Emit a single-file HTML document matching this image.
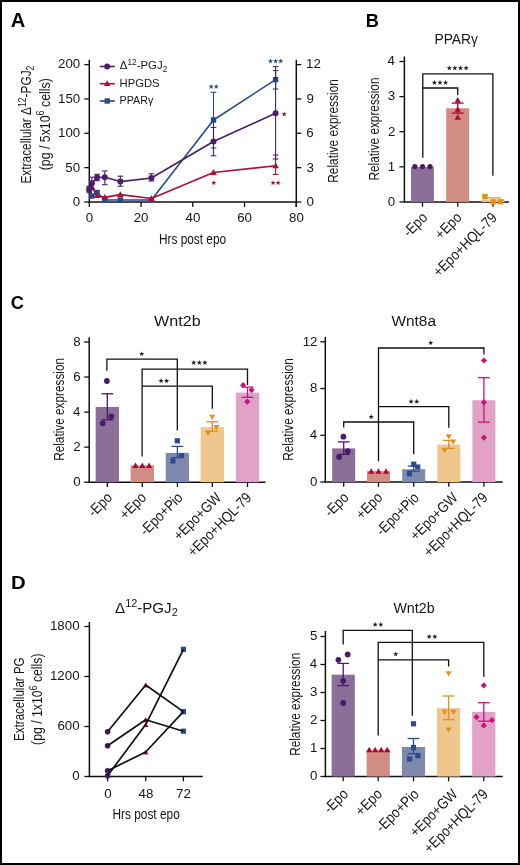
<!DOCTYPE html>
<html><head><meta charset="utf-8"><style>
html,body{margin:0;padding:0;background:#fff;width:520px;height:865px;overflow:hidden}
svg{display:block;will-change:transform}
text{font-family:"Liberation Sans", sans-serif}
</style></head><body>
<svg width="520" height="865" viewBox="0 0 520 865" font-family='"Liberation Sans", sans-serif'>
<rect x="0.00" y="0.00" width="520.00" height="865.00" fill="#ffffff"/>
<rect x="1" y="1" width="518" height="863" fill="none" stroke="#000" stroke-width="2"/>
<text transform="translate(10.75,26.50) scale(1.0440,1)" x="0" y="0" fill="#000" font-weight="bold"><tspan font-size="19.30" dy="-0.00">A</tspan></text>
<line x1="89.30" y1="59.80" x2="89.30" y2="202.65" stroke="#111" stroke-width="1.5"/>
<line x1="296.30" y1="59.80" x2="296.30" y2="207.00" stroke="#111" stroke-width="1.5"/>
<line x1="88.55" y1="202.00" x2="297.05" y2="202.00" stroke="#111" stroke-width="1.5"/>
<line x1="84.30" y1="202.00" x2="89.30" y2="202.00" stroke="#111" stroke-width="1.3"/>
<text transform="translate(72.75,205.85) scale(1.0000,1)" x="0" y="0" fill="#161616"><tspan font-size="13.30" dy="-0.00">0</tspan></text>
<line x1="84.30" y1="167.65" x2="89.30" y2="167.65" stroke="#111" stroke-width="1.3"/>
<text transform="translate(65.37,171.50) scale(1.0000,1)" x="0" y="0" fill="#161616"><tspan font-size="13.30" dy="-0.00">50</tspan></text>
<line x1="84.30" y1="133.30" x2="89.30" y2="133.30" stroke="#111" stroke-width="1.3"/>
<text transform="translate(57.99,137.16) scale(1.0000,1)" x="0" y="0" fill="#161616"><tspan font-size="13.30" dy="-0.00">100</tspan></text>
<line x1="84.30" y1="98.95" x2="89.30" y2="98.95" stroke="#111" stroke-width="1.3"/>
<text transform="translate(57.99,102.80) scale(1.0000,1)" x="0" y="0" fill="#161616"><tspan font-size="13.30" dy="-0.00">150</tspan></text>
<line x1="84.30" y1="64.60" x2="89.30" y2="64.60" stroke="#111" stroke-width="1.3"/>
<text transform="translate(57.99,68.45) scale(1.0000,1)" x="0" y="0" fill="#161616"><tspan font-size="13.30" dy="-0.00">200</tspan></text>
<line x1="296.30" y1="202.00" x2="301.30" y2="202.00" stroke="#111" stroke-width="1.3"/>
<text transform="translate(306.47,205.85) scale(1.0000,1)" x="0" y="0" fill="#161616"><tspan font-size="13.30" dy="-0.00">0</tspan></text>
<line x1="296.30" y1="167.65" x2="301.30" y2="167.65" stroke="#111" stroke-width="1.3"/>
<text transform="translate(306.47,171.50) scale(1.0000,1)" x="0" y="0" fill="#161616"><tspan font-size="13.30" dy="-0.00">3</tspan></text>
<line x1="296.30" y1="133.30" x2="301.30" y2="133.30" stroke="#111" stroke-width="1.3"/>
<text transform="translate(306.33,137.16) scale(1.0000,1)" x="0" y="0" fill="#161616"><tspan font-size="13.30" dy="-0.00">6</tspan></text>
<line x1="296.30" y1="98.95" x2="301.30" y2="98.95" stroke="#111" stroke-width="1.3"/>
<text transform="translate(306.40,102.80) scale(1.0000,1)" x="0" y="0" fill="#161616"><tspan font-size="13.30" dy="-0.00">9</tspan></text>
<line x1="296.30" y1="64.60" x2="301.30" y2="64.60" stroke="#111" stroke-width="1.3"/>
<text transform="translate(306.00,68.45) scale(1.0000,1)" x="0" y="0" fill="#161616"><tspan font-size="13.30" dy="-0.00">12</tspan></text>
<line x1="89.30" y1="202.00" x2="89.30" y2="207.00" stroke="#111" stroke-width="1.3"/>
<text transform="translate(85.71,222.40) scale(1.0000,1)" x="0" y="0" fill="#161616"><tspan font-size="13.30" dy="-0.00">0</tspan></text>
<line x1="141.05" y1="202.00" x2="141.05" y2="207.00" stroke="#111" stroke-width="1.3"/>
<text transform="translate(133.70,222.40) scale(1.0000,1)" x="0" y="0" fill="#161616"><tspan font-size="13.30" dy="-0.00">20</tspan></text>
<line x1="192.80" y1="202.00" x2="192.80" y2="207.00" stroke="#111" stroke-width="1.3"/>
<text transform="translate(185.62,222.40) scale(1.0000,1)" x="0" y="0" fill="#161616"><tspan font-size="13.30" dy="-0.00">40</tspan></text>
<line x1="244.55" y1="202.00" x2="244.55" y2="207.00" stroke="#111" stroke-width="1.3"/>
<text transform="translate(237.20,222.40) scale(1.0000,1)" x="0" y="0" fill="#161616"><tspan font-size="13.30" dy="-0.00">60</tspan></text>
<line x1="296.30" y1="202.00" x2="296.30" y2="207.00" stroke="#111" stroke-width="1.3"/>
<text transform="translate(288.99,222.40) scale(1.0000,1)" x="0" y="0" fill="#161616"><tspan font-size="13.30" dy="-0.00">80</tspan></text>
<text transform="translate(158.95,243.60) scale(0.7649,1)" x="0" y="0" fill="#161616"><tspan font-size="15.50" dy="-0.00">Hrs post epo</tspan></text>
<text transform="translate(338.00,182.75) rotate(-90) scale(0.8029,1)" x="0" y="0" fill="#161616"><tspan font-size="14.80" dy="-0.00">Relative expression</tspan></text>
<text transform="translate(31.20,183.55) rotate(-90) scale(0.8031,1)" x="0" y="0" fill="#161616"><tspan font-size="14.80" dy="-0.00">Extracellular Δ</tspan><tspan font-size="10.66" dy="-5.33">12</tspan><tspan font-size="14.80" dy="5.33">-PGJ</tspan><tspan font-size="10.66" dy="2.96">2</tspan></text>
<text transform="translate(49.60,170.34) rotate(-90) scale(0.8355,1)" x="0" y="0" fill="#161616"><tspan font-size="14.80" dy="-0.00">(pg / 5x10</tspan><tspan font-size="10.66" dy="-5.33">6</tspan><tspan font-size="14.80" dy="5.33"> cells)</tspan></text>
<polyline points="89.30,188.50 91.89,196.00 97.06,192.50 104.83,200.00 120.35,200.00 151.40,200.00 213.50,120.00 275.60,79.60" fill="none" stroke="#244a88" stroke-width="1.6" stroke-linejoin="round"/>
<polyline points="89.30,189.00 91.89,187.00 97.06,195.70 104.83,197.40 120.35,194.60 151.40,198.50 213.50,172.50 275.60,165.80" fill="none" stroke="#b00d38" stroke-width="1.6" stroke-linejoin="round"/>
<polyline points="89.30,189.50 91.89,183.30 97.06,177.50 104.83,177.20 120.35,181.60 151.40,178.00 213.50,141.50 275.60,113.30" fill="none" stroke="#4b1e68" stroke-width="1.6" stroke-linejoin="round"/>
<rect x="86.60" y="185.80" width="5.40" height="5.40" fill="#244a88"/>
<rect x="89.19" y="193.30" width="5.40" height="5.40" fill="#244a88"/>
<rect x="94.36" y="189.80" width="5.40" height="5.40" fill="#244a88"/>
<rect x="102.12" y="197.30" width="5.40" height="5.40" fill="#244a88"/>
<rect x="117.65" y="197.30" width="5.40" height="5.40" fill="#244a88"/>
<rect x="148.70" y="197.30" width="5.40" height="5.40" fill="#244a88"/>
<line x1="213.50" y1="92.30" x2="213.50" y2="148.00" stroke="#244a88" stroke-width="1.1"/>
<line x1="210.70" y1="92.30" x2="216.30" y2="92.30" stroke="#244a88" stroke-width="1.1"/>
<line x1="210.70" y1="148.00" x2="216.30" y2="148.00" stroke="#244a88" stroke-width="1.1"/>
<rect x="210.80" y="117.30" width="5.40" height="5.40" fill="#244a88"/>
<line x1="275.60" y1="70.50" x2="275.60" y2="89.00" stroke="#244a88" stroke-width="1.1"/>
<line x1="272.80" y1="70.50" x2="278.40" y2="70.50" stroke="#244a88" stroke-width="1.1"/>
<line x1="272.80" y1="89.00" x2="278.40" y2="89.00" stroke="#244a88" stroke-width="1.1"/>
<rect x="272.90" y="76.90" width="5.40" height="5.40" fill="#244a88"/>
<polygon points="86.00,191.40 92.60,191.40 89.30,185.60" fill="#b00d38"/>
<polygon points="88.59,189.40 95.19,189.40 91.89,183.60" fill="#b00d38"/>
<polygon points="93.76,198.10 100.36,198.10 97.06,192.30" fill="#b00d38"/>
<polygon points="101.53,199.80 108.12,199.80 104.83,194.00" fill="#b00d38"/>
<polygon points="117.05,197.00 123.65,197.00 120.35,191.20" fill="#b00d38"/>
<polygon points="148.10,200.90 154.70,200.90 151.40,195.10" fill="#b00d38"/>
<polygon points="210.20,174.90 216.80,174.90 213.50,169.10" fill="#b00d38"/>
<line x1="275.60" y1="155.00" x2="275.60" y2="174.40" stroke="#b00d38" stroke-width="1.1"/>
<line x1="272.80" y1="155.00" x2="278.40" y2="155.00" stroke="#b00d38" stroke-width="1.1"/>
<line x1="272.80" y1="174.40" x2="278.40" y2="174.40" stroke="#b00d38" stroke-width="1.1"/>
<polygon points="272.30,168.20 278.90,168.20 275.60,162.40" fill="#b00d38"/>
<line x1="89.30" y1="186.50" x2="89.30" y2="192.80" stroke="#4b1e68" stroke-width="1.1"/>
<line x1="86.50" y1="186.50" x2="92.10" y2="186.50" stroke="#4b1e68" stroke-width="1.1"/>
<line x1="86.50" y1="192.80" x2="92.10" y2="192.80" stroke="#4b1e68" stroke-width="1.1"/>
<circle cx="89.30" cy="189.50" r="3.0" fill="#4b1e68"/>
<line x1="91.89" y1="177.20" x2="91.89" y2="189.00" stroke="#4b1e68" stroke-width="1.1"/>
<line x1="89.09" y1="177.20" x2="94.69" y2="177.20" stroke="#4b1e68" stroke-width="1.1"/>
<line x1="89.09" y1="189.00" x2="94.69" y2="189.00" stroke="#4b1e68" stroke-width="1.1"/>
<circle cx="91.89" cy="183.30" r="3.0" fill="#4b1e68"/>
<line x1="97.06" y1="174.30" x2="97.06" y2="180.70" stroke="#4b1e68" stroke-width="1.1"/>
<line x1="94.26" y1="174.30" x2="99.86" y2="174.30" stroke="#4b1e68" stroke-width="1.1"/>
<line x1="94.26" y1="180.70" x2="99.86" y2="180.70" stroke="#4b1e68" stroke-width="1.1"/>
<circle cx="97.06" cy="177.50" r="3.0" fill="#4b1e68"/>
<line x1="104.83" y1="170.90" x2="104.83" y2="184.70" stroke="#4b1e68" stroke-width="1.1"/>
<line x1="102.03" y1="170.90" x2="107.62" y2="170.90" stroke="#4b1e68" stroke-width="1.1"/>
<line x1="102.03" y1="184.70" x2="107.62" y2="184.70" stroke="#4b1e68" stroke-width="1.1"/>
<circle cx="104.83" cy="177.20" r="3.0" fill="#4b1e68"/>
<line x1="120.35" y1="176.20" x2="120.35" y2="186.20" stroke="#4b1e68" stroke-width="1.1"/>
<line x1="117.55" y1="176.20" x2="123.15" y2="176.20" stroke="#4b1e68" stroke-width="1.1"/>
<line x1="117.55" y1="186.20" x2="123.15" y2="186.20" stroke="#4b1e68" stroke-width="1.1"/>
<circle cx="120.35" cy="181.60" r="3.0" fill="#4b1e68"/>
<line x1="151.40" y1="173.80" x2="151.40" y2="181.00" stroke="#4b1e68" stroke-width="1.1"/>
<line x1="148.60" y1="173.80" x2="154.20" y2="173.80" stroke="#4b1e68" stroke-width="1.1"/>
<line x1="148.60" y1="181.00" x2="154.20" y2="181.00" stroke="#4b1e68" stroke-width="1.1"/>
<circle cx="151.40" cy="178.00" r="3.0" fill="#4b1e68"/>
<line x1="213.50" y1="127.50" x2="213.50" y2="155.80" stroke="#4b1e68" stroke-width="1.1"/>
<line x1="210.70" y1="127.50" x2="216.30" y2="127.50" stroke="#4b1e68" stroke-width="1.1"/>
<line x1="210.70" y1="155.80" x2="216.30" y2="155.80" stroke="#4b1e68" stroke-width="1.1"/>
<circle cx="213.50" cy="141.50" r="3.0" fill="#4b1e68"/>
<line x1="275.60" y1="66.60" x2="275.60" y2="159.00" stroke="#4b1e68" stroke-width="1.1"/>
<line x1="272.80" y1="66.60" x2="278.40" y2="66.60" stroke="#4b1e68" stroke-width="1.1"/>
<line x1="272.80" y1="159.00" x2="278.40" y2="159.00" stroke="#4b1e68" stroke-width="1.1"/>
<circle cx="275.60" cy="113.30" r="3.0" fill="#4b1e68"/>
<polygon points="211.15,84.00 211.78,85.83 213.72,85.87 212.18,87.03 212.74,88.88 211.15,87.78 209.56,88.88 210.12,87.03 208.58,85.87 210.52,85.83" fill="#244a88"/>
<polygon points="216.25,84.00 216.88,85.83 218.82,85.87 217.28,87.03 217.84,88.88 216.25,87.78 214.66,88.88 215.22,87.03 213.68,85.87 215.62,85.83" fill="#244a88"/>
<polygon points="270.50,58.50 271.13,60.33 273.07,60.37 271.53,61.53 272.09,63.38 270.50,62.28 268.91,63.38 269.47,61.53 267.93,60.37 269.87,60.33" fill="#244a88"/>
<polygon points="275.60,58.50 276.23,60.33 278.17,60.37 276.63,61.53 277.19,63.38 275.60,62.28 274.01,63.38 274.57,61.53 273.03,60.37 274.97,60.33" fill="#244a88"/>
<polygon points="280.70,58.50 281.33,60.33 283.27,60.37 281.73,61.53 282.29,63.38 280.70,62.28 279.11,63.38 279.67,61.53 278.13,60.37 280.07,60.33" fill="#244a88"/>
<polygon points="284.20,111.50 284.83,113.33 286.77,113.37 285.23,114.53 285.79,116.38 284.20,115.28 282.61,116.38 283.17,114.53 281.63,113.37 283.57,113.33" fill="#4b1e68"/>
<polygon points="213.70,180.20 214.33,182.03 216.27,182.07 214.73,183.23 215.29,185.08 213.70,183.98 212.11,185.08 212.67,183.23 211.13,182.07 213.07,182.03" fill="#b00d38"/>
<polygon points="273.05,180.20 273.68,182.03 275.62,182.07 274.08,183.23 274.64,185.08 273.05,183.98 271.46,185.08 272.02,183.23 270.48,182.07 272.42,182.03" fill="#b00d38"/>
<polygon points="278.15,180.20 278.78,182.03 280.72,182.07 279.18,183.23 279.74,185.08 278.15,183.98 276.56,185.08 277.12,183.23 275.58,182.07 277.52,182.03" fill="#b00d38"/>
<line x1="99.80" y1="66.50" x2="114.80" y2="66.50" stroke="#4b1e68" stroke-width="1.6"/>
<circle cx="107.20" cy="66.50" r="3.0" fill="#4b1e68"/>
<line x1="99.80" y1="83.70" x2="114.80" y2="83.70" stroke="#b00d38" stroke-width="1.6"/>
<polygon points="103.90,86.10 110.50,86.10 107.20,80.30" fill="#b00d38"/>
<line x1="99.80" y1="101.00" x2="114.80" y2="101.00" stroke="#244a88" stroke-width="1.6"/>
<rect x="104.50" y="98.30" width="5.40" height="5.40" fill="#244a88"/>
<text transform="translate(119.86,69.20) scale(0.9700,1)" x="0" y="0" fill="#161616"><tspan font-size="11.80" dy="-0.00">Δ</tspan><tspan font-size="8.50" dy="-4.25">12</tspan><tspan font-size="11.80" dy="4.25">-PGJ</tspan><tspan font-size="8.50" dy="2.36">2</tspan></text>
<text transform="translate(119.50,86.90) scale(0.9727,1)" x="0" y="0" fill="#161616"><tspan font-size="11.60" dy="-0.00">HPGDS</tspan></text>
<text transform="translate(119.54,104.20) scale(0.9282,1)" x="0" y="0" fill="#161616"><tspan font-size="11.60" dy="-0.00">PPARγ</tspan></text>
<text transform="translate(365.72,26.90) scale(0.9783,1)" x="0" y="0" fill="#000" font-weight="bold"><tspan font-size="18.60" dy="-0.00">B</tspan></text>
<text transform="translate(434.39,44.20) scale(0.9563,1)" x="0" y="0" fill="#161616"><tspan font-size="14.50" dy="-0.00">PPARγ</tspan></text>
<line x1="404.40" y1="56.50" x2="404.40" y2="202.55" stroke="#111" stroke-width="1.5"/>
<line x1="403.65" y1="201.90" x2="509.00" y2="201.90" stroke="#111" stroke-width="1.5"/>
<line x1="399.40" y1="201.90" x2="404.40" y2="201.90" stroke="#111" stroke-width="1.3"/>
<text transform="translate(387.75,205.75) scale(1.0000,1)" x="0" y="0" fill="#161616"><tspan font-size="13.30" dy="-0.00">0</tspan></text>
<line x1="399.40" y1="166.80" x2="404.40" y2="166.80" stroke="#111" stroke-width="1.3"/>
<text transform="translate(387.82,170.66) scale(1.0000,1)" x="0" y="0" fill="#161616"><tspan font-size="13.30" dy="-0.00">1</tspan></text>
<line x1="399.40" y1="131.70" x2="404.40" y2="131.70" stroke="#111" stroke-width="1.3"/>
<text transform="translate(387.88,135.55) scale(1.0000,1)" x="0" y="0" fill="#161616"><tspan font-size="13.30" dy="-0.00">2</tspan></text>
<line x1="399.40" y1="96.60" x2="404.40" y2="96.60" stroke="#111" stroke-width="1.3"/>
<text transform="translate(387.82,100.45) scale(1.0000,1)" x="0" y="0" fill="#161616"><tspan font-size="13.30" dy="-0.00">3</tspan></text>
<line x1="399.40" y1="61.50" x2="404.40" y2="61.50" stroke="#111" stroke-width="1.3"/>
<text transform="translate(387.62,65.36) scale(1.0000,1)" x="0" y="0" fill="#161616"><tspan font-size="13.30" dy="-0.00">4</tspan></text>
<text transform="translate(379.00,180.55) rotate(-90) scale(0.7993,1)" x="0" y="0" fill="#161616"><tspan font-size="14.80" dy="-0.00">Relative expression</tspan></text>
<line x1="422.50" y1="201.90" x2="422.50" y2="206.70" stroke="#111" stroke-width="1.3"/>
<line x1="457.70" y1="201.90" x2="457.70" y2="206.70" stroke="#111" stroke-width="1.3"/>
<line x1="493.00" y1="201.90" x2="493.00" y2="206.70" stroke="#111" stroke-width="1.3"/>
<rect x="411.00" y="167.00" width="22.90" height="34.90" fill="#8a6f98"/>
<rect x="446.20" y="108.20" width="23.00" height="93.70" fill="#d18d84"/>
<rect x="481.50" y="199.30" width="23.00" height="2.60" fill="#eec68e"/>
<line x1="457.70" y1="103.10" x2="457.70" y2="113.10" stroke="#ad0631" stroke-width="1.3"/>
<line x1="451.80" y1="103.10" x2="463.60" y2="103.10" stroke="#ad0631" stroke-width="1.3"/>
<line x1="451.80" y1="113.10" x2="463.60" y2="113.10" stroke="#ad0631" stroke-width="1.3"/>
<circle cx="414.90" cy="166.60" r="2.6" fill="#4b1966"/>
<circle cx="422.50" cy="166.60" r="2.6" fill="#4b1966"/>
<circle cx="430.00" cy="166.60" r="2.6" fill="#4b1966"/>
<polygon points="454.50,102.72 460.90,102.72 457.70,97.08" fill="#ad0631"/>
<polygon points="454.50,111.82 460.90,111.82 457.70,106.18" fill="#ad0631"/>
<polygon points="454.50,119.82 460.90,119.82 457.70,114.18" fill="#ad0631"/>
<line x1="482.50" y1="197.90" x2="500.50" y2="197.90" stroke="#e0901c" stroke-width="1.2"/>
<rect x="482.35" y="193.75" width="5.30" height="5.30" fill="#e0901c"/>
<rect x="490.45" y="199.15" width="5.30" height="5.30" fill="#e0901c"/>
<rect x="497.75" y="199.15" width="5.30" height="5.30" fill="#e0901c"/>
<polyline points="422.80,157.70 422.80,73.80 492.90,73.80 492.90,175.80" fill="none" stroke="#111" stroke-width="1.3"/>
<polygon points="449.30,65.35 449.95,67.21 451.92,67.25 450.35,68.44 450.92,70.32 449.30,69.20 447.68,70.32 448.25,68.44 446.68,67.25 448.65,67.21" fill="#1c1c1c"/>
<polygon points="454.90,65.35 455.55,67.21 457.52,67.25 455.95,68.44 456.52,70.32 454.90,69.20 453.28,70.32 453.85,68.44 452.28,67.25 454.25,67.21" fill="#1c1c1c"/>
<polygon points="460.50,65.35 461.15,67.21 463.12,67.25 461.55,68.44 462.12,70.32 460.50,69.20 458.88,70.32 459.45,68.44 457.88,67.25 459.85,67.21" fill="#1c1c1c"/>
<polygon points="466.10,65.35 466.75,67.21 468.72,67.25 467.15,68.44 467.72,70.32 466.10,69.20 464.48,70.32 465.05,68.44 463.48,67.25 465.45,67.21" fill="#1c1c1c"/>
<polyline points="422.80,88.00 422.80,88.00 457.70,88.00 457.70,95.10" fill="none" stroke="#111" stroke-width="1.3"/>
<polygon points="434.40,79.95 435.05,81.81 437.02,81.85 435.45,83.04 436.02,84.92 434.40,83.80 432.78,84.92 433.35,83.04 431.78,81.85 433.75,81.81" fill="#1c1c1c"/>
<polygon points="440.00,79.95 440.65,81.81 442.62,81.85 441.05,83.04 441.62,84.92 440.00,83.80 438.38,84.92 438.95,83.04 437.38,81.85 439.35,81.81" fill="#1c1c1c"/>
<polygon points="445.60,79.95 446.25,81.81 448.22,81.85 446.65,83.04 447.22,84.92 445.60,83.80 443.98,84.92 444.55,83.04 442.98,81.85 444.95,81.81" fill="#1c1c1c"/>
<text transform="translate(428.30,218.50) rotate(-45) translate(-27.38,0) scale(0.8700,1)" x="0" y="0" fill="#161616"><tspan font-size="14.90" dy="-0.00">-Epo</tspan></text>
<text transform="translate(462.50,218.50) rotate(-45) translate(-30.64,0) scale(0.8700,1)" x="0" y="0" fill="#161616"><tspan font-size="14.90" dy="-0.00">+Epo</tspan></text>
<text transform="translate(498.00,218.50) rotate(-45) translate(-83.60,0) scale(0.8700,1)" x="0" y="0" fill="#161616"><tspan font-size="14.90" dy="-0.00">+Epo+HQL-79</tspan></text>
<text transform="translate(10.77,309.20) scale(0.9745,1)" x="0" y="0" fill="#000" font-weight="bold"><tspan font-size="18.80" dy="-0.00">C</tspan></text>
<text transform="translate(154.12,326.00) scale(1.0591,1)" x="0" y="0" fill="#161616"><tspan font-size="15.20" dy="-0.00">Wnt2b</tspan></text>
<text transform="translate(391.42,326.00) scale(1.0148,1)" x="0" y="0" fill="#161616"><tspan font-size="15.20" dy="-0.00">Wnt8a</tspan></text>
<line x1="89.20" y1="337.30" x2="89.20" y2="482.85" stroke="#111" stroke-width="1.5"/>
<line x1="88.45" y1="482.20" x2="265.50" y2="482.20" stroke="#111" stroke-width="1.5"/>
<line x1="84.20" y1="482.20" x2="89.20" y2="482.20" stroke="#111" stroke-width="1.3"/>
<text transform="translate(73.15,486.05) scale(1.0000,1)" x="0" y="0" fill="#161616"><tspan font-size="13.30" dy="-0.00">0</tspan></text>
<line x1="84.20" y1="447.15" x2="89.20" y2="447.15" stroke="#111" stroke-width="1.3"/>
<text transform="translate(73.28,451.00) scale(1.0000,1)" x="0" y="0" fill="#161616"><tspan font-size="13.30" dy="-0.00">2</tspan></text>
<line x1="84.20" y1="412.10" x2="89.20" y2="412.10" stroke="#111" stroke-width="1.3"/>
<text transform="translate(73.02,415.95) scale(1.0000,1)" x="0" y="0" fill="#161616"><tspan font-size="13.30" dy="-0.00">4</tspan></text>
<line x1="84.20" y1="377.05" x2="89.20" y2="377.05" stroke="#111" stroke-width="1.3"/>
<text transform="translate(73.22,380.90) scale(1.0000,1)" x="0" y="0" fill="#161616"><tspan font-size="13.30" dy="-0.00">6</tspan></text>
<line x1="84.20" y1="342.00" x2="89.20" y2="342.00" stroke="#111" stroke-width="1.3"/>
<text transform="translate(73.15,345.85) scale(1.0000,1)" x="0" y="0" fill="#161616"><tspan font-size="13.30" dy="-0.00">8</tspan></text>
<line x1="107.30" y1="482.20" x2="107.30" y2="487.00" stroke="#111" stroke-width="1.3"/>
<rect x="95.65" y="407.00" width="23.30" height="75.20" fill="#8a6f98"/>
<line x1="142.30" y1="482.20" x2="142.30" y2="487.00" stroke="#111" stroke-width="1.3"/>
<rect x="130.65" y="465.30" width="23.30" height="16.90" fill="#d18d84"/>
<line x1="177.40" y1="482.20" x2="177.40" y2="487.00" stroke="#111" stroke-width="1.3"/>
<rect x="165.75" y="452.90" width="23.30" height="29.30" fill="#7f89ae"/>
<line x1="212.30" y1="482.20" x2="212.30" y2="487.00" stroke="#111" stroke-width="1.3"/>
<rect x="200.65" y="427.20" width="23.30" height="55.00" fill="#eec68e"/>
<line x1="247.50" y1="482.20" x2="247.50" y2="487.00" stroke="#111" stroke-width="1.3"/>
<rect x="235.85" y="392.60" width="23.30" height="89.60" fill="#e0a2c6"/>
<line x1="107.30" y1="393.80" x2="107.30" y2="419.80" stroke="#4b1966" stroke-width="1.3"/>
<line x1="101.40" y1="393.80" x2="113.20" y2="393.80" stroke="#4b1966" stroke-width="1.3"/>
<line x1="101.40" y1="419.80" x2="113.20" y2="419.80" stroke="#4b1966" stroke-width="1.3"/>
<circle cx="106.90" cy="381.00" r="2.9" fill="#4b1966"/>
<circle cx="111.30" cy="416.50" r="2.9" fill="#4b1966"/>
<circle cx="102.70" cy="423.30" r="2.9" fill="#4b1966"/>
<polygon points="132.40,468.03 138.60,468.03 135.50,462.57" fill="#ad0631"/>
<polygon points="139.20,468.03 145.40,468.03 142.30,462.57" fill="#ad0631"/>
<polygon points="146.00,468.03 152.20,468.03 149.10,462.57" fill="#ad0631"/>
<line x1="177.40" y1="446.40" x2="177.40" y2="457.60" stroke="#2a4d8a" stroke-width="1.3"/>
<line x1="171.50" y1="446.40" x2="183.30" y2="446.40" stroke="#2a4d8a" stroke-width="1.3"/>
<line x1="171.50" y1="457.60" x2="183.30" y2="457.60" stroke="#2a4d8a" stroke-width="1.3"/>
<rect x="174.70" y="438.20" width="5.20" height="5.20" fill="#2a4d8a"/>
<rect x="178.90" y="453.00" width="5.20" height="5.20" fill="#2a4d8a"/>
<rect x="170.30" y="458.40" width="5.20" height="5.20" fill="#2a4d8a"/>
<line x1="212.30" y1="421.80" x2="212.30" y2="431.20" stroke="#e0901c" stroke-width="1.3"/>
<line x1="206.40" y1="421.80" x2="218.20" y2="421.80" stroke="#e0901c" stroke-width="1.3"/>
<line x1="206.40" y1="431.20" x2="218.20" y2="431.20" stroke="#e0901c" stroke-width="1.3"/>
<polygon points="209.20,414.76 215.20,414.76 212.20,420.04" fill="#e0901c"/>
<polygon points="213.50,424.96 219.50,424.96 216.50,430.24" fill="#e0901c"/>
<polygon points="205.10,430.66 211.10,430.66 208.10,435.94" fill="#e0901c"/>
<line x1="247.50" y1="387.10" x2="247.50" y2="397.30" stroke="#c8147e" stroke-width="1.3"/>
<line x1="241.60" y1="387.10" x2="253.40" y2="387.10" stroke="#c8147e" stroke-width="1.3"/>
<line x1="241.60" y1="397.30" x2="253.40" y2="397.30" stroke="#c8147e" stroke-width="1.3"/>
<polygon points="243.10,382.10 246.20,385.20 243.10,388.30 240.00,385.20" fill="#c8147e"/>
<polygon points="251.60,387.00 254.70,390.10 251.60,393.20 248.50,390.10" fill="#c8147e"/>
<polygon points="247.30,398.60 250.40,401.70 247.30,404.80 244.20,401.70" fill="#c8147e"/>
<text transform="translate(63.75,460.84) rotate(-90) scale(0.7977,1)" x="0" y="0" fill="#161616"><tspan font-size="14.80" dy="-0.00">Relative expression</tspan></text>
<polyline points="106.90,370.80 106.90,359.20 177.30,359.20 177.30,430.40" fill="none" stroke="#111" stroke-width="1.3"/>
<polygon points="141.70,351.15 142.35,353.01 144.32,353.05 142.75,354.24 143.32,356.12 141.70,355.00 140.08,356.12 140.65,354.24 139.08,353.05 141.05,353.01" fill="#1c1c1c"/>
<polyline points="142.10,456.40 142.10,369.20 247.50,369.20 247.50,385.00" fill="none" stroke="#111" stroke-width="1.3"/>
<polygon points="193.70,359.95 194.35,361.81 196.32,361.85 194.75,363.04 195.32,364.92 193.70,363.80 192.08,364.92 192.65,363.04 191.08,361.85 193.05,361.81" fill="#1c1c1c"/>
<polygon points="199.30,359.95 199.95,361.81 201.92,361.85 200.35,363.04 200.92,364.92 199.30,363.80 197.68,364.92 198.25,363.04 196.68,361.85 198.65,361.81" fill="#1c1c1c"/>
<polygon points="204.90,359.95 205.55,361.81 207.52,361.85 205.95,363.04 206.52,364.92 204.90,363.80 203.28,364.92 203.85,363.04 202.28,361.85 204.25,361.81" fill="#1c1c1c"/>
<polyline points="142.10,386.20 142.10,386.20 212.30,386.20 212.30,408.80" fill="none" stroke="#111" stroke-width="1.3"/>
<polygon points="161.00,378.05 161.65,379.91 163.62,379.95 162.05,381.14 162.62,383.02 161.00,381.90 159.38,383.02 159.95,381.14 158.38,379.95 160.35,379.91" fill="#1c1c1c"/>
<polygon points="166.60,378.05 167.25,379.91 169.22,379.95 167.65,381.14 168.22,383.02 166.60,381.90 164.98,383.02 165.55,381.14 163.98,379.95 165.95,379.91" fill="#1c1c1c"/>
<text transform="translate(113.10,498.50) rotate(-45) translate(-27.38,0) scale(0.8700,1)" x="0" y="0" fill="#161616"><tspan font-size="14.90" dy="-0.00">-Epo</tspan></text>
<text transform="translate(147.10,498.50) rotate(-45) translate(-30.64,0) scale(0.8700,1)" x="0" y="0" fill="#161616"><tspan font-size="14.90" dy="-0.00">+Epo</tspan></text>
<text transform="translate(183.70,498.50) rotate(-45) translate(-53.69,0) scale(0.8700,1)" x="0" y="0" fill="#161616"><tspan font-size="14.90" dy="-0.00">-Epo+Pio</tspan></text>
<text transform="translate(222.20,498.50) rotate(-45) translate(-60.52,0) scale(0.8700,1)" x="0" y="0" fill="#161616"><tspan font-size="14.90" dy="-0.00">+Epo+GW</tspan></text>
<text transform="translate(252.50,498.50) rotate(-45) translate(-83.60,0) scale(0.8700,1)" x="0" y="0" fill="#161616"><tspan font-size="14.90" dy="-0.00">+Epo+HQL-79</tspan></text>
<line x1="325.30" y1="337.00" x2="325.30" y2="482.65" stroke="#111" stroke-width="1.5"/>
<line x1="324.55" y1="482.00" x2="502.70" y2="482.00" stroke="#111" stroke-width="1.5"/>
<line x1="320.30" y1="482.00" x2="325.30" y2="482.00" stroke="#111" stroke-width="1.3"/>
<text transform="translate(309.95,485.85) scale(1.0000,1)" x="0" y="0" fill="#161616"><tspan font-size="13.30" dy="-0.00">0</tspan></text>
<line x1="320.30" y1="435.27" x2="325.30" y2="435.27" stroke="#111" stroke-width="1.3"/>
<text transform="translate(309.82,439.12) scale(1.0000,1)" x="0" y="0" fill="#161616"><tspan font-size="13.30" dy="-0.00">4</tspan></text>
<line x1="320.30" y1="388.53" x2="325.30" y2="388.53" stroke="#111" stroke-width="1.3"/>
<text transform="translate(309.95,392.39) scale(1.0000,1)" x="0" y="0" fill="#161616"><tspan font-size="13.30" dy="-0.00">8</tspan></text>
<line x1="320.30" y1="341.80" x2="325.30" y2="341.80" stroke="#111" stroke-width="1.3"/>
<text transform="translate(302.70,345.65) scale(1.0000,1)" x="0" y="0" fill="#161616"><tspan font-size="13.30" dy="-0.00">12</tspan></text>
<line x1="343.70" y1="482.00" x2="343.70" y2="486.80" stroke="#111" stroke-width="1.3"/>
<rect x="332.20" y="448.40" width="23.00" height="33.60" fill="#8a6f98"/>
<line x1="378.50" y1="482.00" x2="378.50" y2="486.80" stroke="#111" stroke-width="1.3"/>
<rect x="367.00" y="471.10" width="23.00" height="10.90" fill="#d18d84"/>
<line x1="413.70" y1="482.00" x2="413.70" y2="486.80" stroke="#111" stroke-width="1.3"/>
<rect x="402.20" y="469.20" width="23.00" height="12.80" fill="#7f89ae"/>
<line x1="448.80" y1="482.00" x2="448.80" y2="486.80" stroke="#111" stroke-width="1.3"/>
<rect x="437.30" y="444.50" width="23.00" height="37.50" fill="#eec68e"/>
<line x1="483.90" y1="482.00" x2="483.90" y2="486.80" stroke="#111" stroke-width="1.3"/>
<rect x="472.40" y="400.20" width="23.00" height="81.80" fill="#e0a2c6"/>
<line x1="343.70" y1="441.90" x2="343.70" y2="454.40" stroke="#4b1966" stroke-width="1.3"/>
<line x1="337.80" y1="441.90" x2="349.60" y2="441.90" stroke="#4b1966" stroke-width="1.3"/>
<line x1="337.80" y1="454.40" x2="349.60" y2="454.40" stroke="#4b1966" stroke-width="1.3"/>
<circle cx="343.40" cy="436.70" r="2.9" fill="#4b1966"/>
<circle cx="347.70" cy="451.20" r="2.9" fill="#4b1966"/>
<circle cx="339.10" cy="457.00" r="2.9" fill="#4b1966"/>
<polygon points="368.10,473.83 374.30,473.83 371.20,468.37" fill="#ad0631"/>
<polygon points="375.40,473.83 381.60,473.83 378.50,468.37" fill="#ad0631"/>
<polygon points="383.00,473.83 389.20,473.83 386.10,468.37" fill="#ad0631"/>
<line x1="413.70" y1="466.10" x2="413.70" y2="471.10" stroke="#2a4d8a" stroke-width="1.3"/>
<line x1="407.80" y1="466.10" x2="419.60" y2="466.10" stroke="#2a4d8a" stroke-width="1.3"/>
<line x1="407.80" y1="471.10" x2="419.60" y2="471.10" stroke="#2a4d8a" stroke-width="1.3"/>
<rect x="411.10" y="461.60" width="5.20" height="5.20" fill="#2a4d8a"/>
<rect x="415.10" y="464.40" width="5.20" height="5.20" fill="#2a4d8a"/>
<rect x="406.80" y="471.20" width="5.20" height="5.20" fill="#2a4d8a"/>
<line x1="448.80" y1="440.50" x2="448.80" y2="448.40" stroke="#e0901c" stroke-width="1.3"/>
<line x1="442.90" y1="440.50" x2="454.70" y2="440.50" stroke="#e0901c" stroke-width="1.3"/>
<line x1="442.90" y1="448.40" x2="454.70" y2="448.40" stroke="#e0901c" stroke-width="1.3"/>
<polygon points="445.80,434.16 451.80,434.16 448.80,439.44" fill="#e0901c"/>
<polygon points="450.20,439.56 456.20,439.56 453.20,444.84" fill="#e0901c"/>
<polygon points="441.50,447.96 447.50,447.96 444.50,453.24" fill="#e0901c"/>
<line x1="483.90" y1="377.70" x2="483.90" y2="422.10" stroke="#c8147e" stroke-width="1.3"/>
<line x1="478.00" y1="377.70" x2="489.80" y2="377.70" stroke="#c8147e" stroke-width="1.3"/>
<line x1="478.00" y1="422.10" x2="489.80" y2="422.10" stroke="#c8147e" stroke-width="1.3"/>
<polygon points="483.90,357.40 487.00,360.50 483.90,363.60 480.80,360.50" fill="#c8147e"/>
<polygon points="483.90,399.20 487.00,402.30 483.90,405.40 480.80,402.30" fill="#c8147e"/>
<polygon points="483.90,434.50 487.00,437.60 483.90,440.70 480.80,437.60" fill="#c8147e"/>
<text transform="translate(293.35,460.84) rotate(-90) scale(0.7966,1)" x="0" y="0" fill="#161616"><tspan font-size="14.80" dy="-0.00">Relative expression</tspan></text>
<polyline points="378.50,461.30 378.50,348.00 483.90,348.00 483.90,354.50" fill="none" stroke="#111" stroke-width="1.3"/>
<polygon points="430.70,340.05 431.35,341.91 433.32,341.95 431.75,343.14 432.32,345.02 430.70,343.90 429.08,345.02 429.65,343.14 428.08,341.95 430.05,341.91" fill="#1c1c1c"/>
<polyline points="378.50,406.70 378.50,406.70 448.80,406.70 448.80,427.70" fill="none" stroke="#111" stroke-width="1.3"/>
<polygon points="411.10,398.85 411.75,400.71 413.72,400.75 412.15,401.94 412.72,403.82 411.10,402.70 409.48,403.82 410.05,401.94 408.48,400.75 410.45,400.71" fill="#1c1c1c"/>
<polygon points="416.70,398.85 417.35,400.71 419.32,400.75 417.75,401.94 418.32,403.82 416.70,402.70 415.08,403.82 415.65,401.94 414.08,400.75 416.05,400.71" fill="#1c1c1c"/>
<polyline points="343.70,427.50 343.70,422.00 413.70,422.00 413.70,454.20" fill="none" stroke="#111" stroke-width="1.3"/>
<polygon points="371.20,414.25 371.85,416.11 373.82,416.15 372.25,417.34 372.82,419.22 371.20,418.10 369.58,419.22 370.15,417.34 368.58,416.15 370.55,416.11" fill="#1c1c1c"/>
<text transform="translate(349.50,498.50) rotate(-45) translate(-27.38,0) scale(0.8700,1)" x="0" y="0" fill="#161616"><tspan font-size="14.90" dy="-0.00">-Epo</tspan></text>
<text transform="translate(383.30,498.50) rotate(-45) translate(-30.64,0) scale(0.8700,1)" x="0" y="0" fill="#161616"><tspan font-size="14.90" dy="-0.00">+Epo</tspan></text>
<text transform="translate(420.00,498.50) rotate(-45) translate(-53.69,0) scale(0.8700,1)" x="0" y="0" fill="#161616"><tspan font-size="14.90" dy="-0.00">-Epo+Pio</tspan></text>
<text transform="translate(458.70,498.50) rotate(-45) translate(-60.52,0) scale(0.8700,1)" x="0" y="0" fill="#161616"><tspan font-size="14.90" dy="-0.00">+Epo+GW</tspan></text>
<text transform="translate(488.70,498.50) rotate(-45) translate(-83.60,0) scale(0.8700,1)" x="0" y="0" fill="#161616"><tspan font-size="14.90" dy="-0.00">+Epo+HQL-79</tspan></text>
<text transform="translate(10.93,588.75) scale(1.0987,1)" x="0" y="0" fill="#000" font-weight="bold"><tspan font-size="18.50" dy="-0.00">D</tspan></text>
<text transform="translate(115.05,612.60) scale(1.0429,1)" x="0" y="0" fill="#161616"><tspan font-size="14.50" dy="-0.00">Δ</tspan><tspan font-size="10.44" dy="-5.22">12</tspan><tspan font-size="14.50" dy="5.22">-PGJ</tspan><tspan font-size="10.44" dy="2.90">2</tspan></text>
<line x1="89.40" y1="622.00" x2="89.40" y2="777.15" stroke="#111" stroke-width="1.5"/>
<line x1="88.65" y1="776.50" x2="202.80" y2="776.50" stroke="#111" stroke-width="1.5"/>
<line x1="84.40" y1="776.50" x2="89.40" y2="776.50" stroke="#111" stroke-width="1.3"/>
<text transform="translate(72.15,780.36) scale(1.0000,1)" x="0" y="0" fill="#161616"><tspan font-size="13.30" dy="-0.00">0</tspan></text>
<line x1="84.40" y1="726.50" x2="89.40" y2="726.50" stroke="#111" stroke-width="1.3"/>
<text transform="translate(57.39,730.36) scale(1.0000,1)" x="0" y="0" fill="#161616"><tspan font-size="13.30" dy="-0.00">600</tspan></text>
<line x1="84.40" y1="676.50" x2="89.40" y2="676.50" stroke="#111" stroke-width="1.3"/>
<text transform="translate(49.94,680.36) scale(1.0000,1)" x="0" y="0" fill="#161616"><tspan font-size="13.30" dy="-0.00">1200</tspan></text>
<line x1="84.40" y1="626.50" x2="89.40" y2="626.50" stroke="#111" stroke-width="1.3"/>
<text transform="translate(49.94,630.36) scale(1.0000,1)" x="0" y="0" fill="#161616"><tspan font-size="13.30" dy="-0.00">1800</tspan></text>
<text transform="translate(23.85,740.93) rotate(-90) scale(0.7934,1)" x="0" y="0" fill="#161616"><tspan font-size="14.60" dy="-0.00">Extracellular PG</tspan></text>
<text transform="translate(42.30,744.94) rotate(-90) scale(0.8404,1)" x="0" y="0" fill="#161616"><tspan font-size="14.60" dy="-0.00">(pg / 1x10</tspan><tspan font-size="10.51" dy="-5.26">6</tspan><tspan font-size="14.60" dy="5.26"> cells)</tspan></text>
<line x1="107.60" y1="776.50" x2="107.60" y2="781.30" stroke="#111" stroke-width="1.3"/>
<text transform="translate(104.31,797.50) scale(1.0000,1)" x="0" y="0" fill="#161616"><tspan font-size="13.30" dy="-0.00">0</tspan></text>
<line x1="145.70" y1="776.50" x2="145.70" y2="781.30" stroke="#111" stroke-width="1.3"/>
<text transform="translate(138.57,797.50) scale(1.0000,1)" x="0" y="0" fill="#161616"><tspan font-size="13.30" dy="-0.00">48</tspan></text>
<line x1="183.40" y1="776.50" x2="183.40" y2="781.30" stroke="#111" stroke-width="1.3"/>
<text transform="translate(176.07,797.50) scale(1.0000,1)" x="0" y="0" fill="#161616"><tspan font-size="13.30" dy="-0.00">72</tspan></text>
<text transform="translate(112.45,818.70) scale(0.7710,1)" x="0" y="0" fill="#161616"><tspan font-size="15.40" dy="-0.00">Hrs post epo</tspan></text>
<circle cx="107.60" cy="731.80" r="2.8" fill="#4b1966"/>
<polygon points="142.90,687.46 148.50,687.46 145.70,682.54" fill="#ad0631"/>
<rect x="180.80" y="709.00" width="5.20" height="5.20" fill="#2a4d8a"/>
<circle cx="107.60" cy="745.70" r="2.8" fill="#4b1966"/>
<polygon points="142.90,722.16 148.50,722.16 145.70,717.24" fill="#ad0631"/>
<rect x="180.80" y="728.60" width="5.20" height="5.20" fill="#2a4d8a"/>
<circle cx="107.60" cy="775.70" r="2.8" fill="#4b1966"/>
<polygon points="142.90,727.06 148.50,727.06 145.70,722.14" fill="#ad0631"/>
<rect x="180.80" y="646.70" width="5.20" height="5.20" fill="#2a4d8a"/>
<circle cx="107.60" cy="770.80" r="2.8" fill="#4b1966"/>
<polygon points="142.90,754.46 148.50,754.46 145.70,749.54" fill="#ad0631"/>
<rect x="180.80" y="709.00" width="5.20" height="5.20" fill="#2a4d8a"/>
<polyline points="107.60,731.80 145.70,685.00 183.40,711.60" fill="none" stroke="#111" stroke-width="1.7" stroke-linejoin="round"/>
<polyline points="107.60,745.70 145.70,719.70 183.40,731.20" fill="none" stroke="#111" stroke-width="1.7" stroke-linejoin="round"/>
<polyline points="107.60,775.70 145.70,724.60 183.40,649.30" fill="none" stroke="#111" stroke-width="1.7" stroke-linejoin="round"/>
<polyline points="107.60,770.80 145.70,752.00 183.40,711.60" fill="none" stroke="#111" stroke-width="1.7" stroke-linejoin="round"/>
<text transform="translate(393.43,612.50) scale(0.9818,1)" x="0" y="0" fill="#161616"><tspan font-size="14.50" dy="-0.00">Wnt2b</tspan></text>
<line x1="325.40" y1="631.00" x2="325.40" y2="777.15" stroke="#111" stroke-width="1.5"/>
<line x1="324.65" y1="776.50" x2="502.70" y2="776.50" stroke="#111" stroke-width="1.5"/>
<line x1="320.40" y1="776.50" x2="325.40" y2="776.50" stroke="#111" stroke-width="1.3"/>
<text transform="translate(309.95,780.36) scale(1.0000,1)" x="0" y="0" fill="#161616"><tspan font-size="13.30" dy="-0.00">0</tspan></text>
<line x1="320.40" y1="748.50" x2="325.40" y2="748.50" stroke="#111" stroke-width="1.3"/>
<text transform="translate(310.02,752.36) scale(1.0000,1)" x="0" y="0" fill="#161616"><tspan font-size="13.30" dy="-0.00">1</tspan></text>
<line x1="320.40" y1="720.50" x2="325.40" y2="720.50" stroke="#111" stroke-width="1.3"/>
<text transform="translate(310.08,724.36) scale(1.0000,1)" x="0" y="0" fill="#161616"><tspan font-size="13.30" dy="-0.00">2</tspan></text>
<line x1="320.40" y1="692.50" x2="325.40" y2="692.50" stroke="#111" stroke-width="1.3"/>
<text transform="translate(310.02,696.36) scale(1.0000,1)" x="0" y="0" fill="#161616"><tspan font-size="13.30" dy="-0.00">3</tspan></text>
<line x1="320.40" y1="664.50" x2="325.40" y2="664.50" stroke="#111" stroke-width="1.3"/>
<text transform="translate(309.82,668.36) scale(1.0000,1)" x="0" y="0" fill="#161616"><tspan font-size="13.30" dy="-0.00">4</tspan></text>
<line x1="320.40" y1="636.50" x2="325.40" y2="636.50" stroke="#111" stroke-width="1.3"/>
<text transform="translate(309.95,640.36) scale(1.0000,1)" x="0" y="0" fill="#161616"><tspan font-size="13.30" dy="-0.00">5</tspan></text>
<line x1="343.20" y1="776.50" x2="343.20" y2="781.30" stroke="#111" stroke-width="1.3"/>
<rect x="331.60" y="674.70" width="23.20" height="101.80" fill="#8a6f98"/>
<line x1="378.20" y1="776.50" x2="378.20" y2="781.30" stroke="#111" stroke-width="1.3"/>
<rect x="366.60" y="750.20" width="23.20" height="26.30" fill="#d18d84"/>
<line x1="413.50" y1="776.50" x2="413.50" y2="781.30" stroke="#111" stroke-width="1.3"/>
<rect x="401.90" y="747.00" width="23.20" height="29.50" fill="#7f89ae"/>
<line x1="448.60" y1="776.50" x2="448.60" y2="781.30" stroke="#111" stroke-width="1.3"/>
<rect x="437.00" y="708.10" width="23.20" height="68.40" fill="#eec68e"/>
<line x1="483.80" y1="776.50" x2="483.80" y2="781.30" stroke="#111" stroke-width="1.3"/>
<rect x="472.20" y="711.90" width="23.20" height="64.60" fill="#e0a2c6"/>
<line x1="343.20" y1="663.40" x2="343.20" y2="685.60" stroke="#4b1966" stroke-width="1.3"/>
<line x1="337.30" y1="663.40" x2="349.10" y2="663.40" stroke="#4b1966" stroke-width="1.3"/>
<line x1="337.30" y1="685.60" x2="349.10" y2="685.60" stroke="#4b1966" stroke-width="1.3"/>
<circle cx="338.40" cy="659.80" r="2.9" fill="#4b1966"/>
<circle cx="347.70" cy="654.50" r="2.9" fill="#4b1966"/>
<circle cx="343.20" cy="680.80" r="2.9" fill="#4b1966"/>
<circle cx="343.20" cy="703.00" r="2.9" fill="#4b1966"/>
<polygon points="366.10,752.13 372.30,752.13 369.20,746.67" fill="#ad0631"/>
<polygon points="372.10,752.13 378.30,752.13 375.20,746.67" fill="#ad0631"/>
<polygon points="378.10,752.13 384.30,752.13 381.20,746.67" fill="#ad0631"/>
<polygon points="384.10,752.13 390.30,752.13 387.20,746.67" fill="#ad0631"/>
<line x1="413.50" y1="738.50" x2="413.50" y2="753.80" stroke="#2a4d8a" stroke-width="1.3"/>
<line x1="407.60" y1="738.50" x2="419.40" y2="738.50" stroke="#2a4d8a" stroke-width="1.3"/>
<line x1="407.60" y1="753.80" x2="419.40" y2="753.80" stroke="#2a4d8a" stroke-width="1.3"/>
<rect x="410.90" y="721.20" width="5.20" height="5.20" fill="#2a4d8a"/>
<rect x="410.90" y="744.90" width="5.20" height="5.20" fill="#2a4d8a"/>
<rect x="415.30" y="753.00" width="5.20" height="5.20" fill="#2a4d8a"/>
<rect x="407.00" y="756.40" width="5.20" height="5.20" fill="#2a4d8a"/>
<line x1="448.60" y1="696.00" x2="448.60" y2="719.60" stroke="#e0901c" stroke-width="1.3"/>
<line x1="442.70" y1="696.00" x2="454.50" y2="696.00" stroke="#e0901c" stroke-width="1.3"/>
<line x1="442.70" y1="719.60" x2="454.50" y2="719.60" stroke="#e0901c" stroke-width="1.3"/>
<polygon points="445.60,671.16 451.60,671.16 448.60,676.44" fill="#e0901c"/>
<polygon points="441.60,709.66 447.60,709.66 444.60,714.94" fill="#e0901c"/>
<polygon points="450.50,709.66 456.50,709.66 453.50,714.94" fill="#e0901c"/>
<polygon points="445.60,727.56 451.60,727.56 448.60,732.84" fill="#e0901c"/>
<line x1="483.80" y1="702.70" x2="483.80" y2="721.20" stroke="#c8147e" stroke-width="1.3"/>
<line x1="477.90" y1="702.70" x2="489.70" y2="702.70" stroke="#c8147e" stroke-width="1.3"/>
<line x1="477.90" y1="721.20" x2="489.70" y2="721.20" stroke="#c8147e" stroke-width="1.3"/>
<polygon points="483.80,682.30 486.90,685.40 483.80,688.50 480.70,685.40" fill="#c8147e"/>
<polygon points="476.50,714.00 479.60,717.10 476.50,720.20 473.40,717.10" fill="#c8147e"/>
<polygon points="491.90,717.10 495.00,720.20 491.90,723.30 488.80,720.20" fill="#c8147e"/>
<polygon points="483.80,722.30 486.90,725.40 483.80,728.50 480.70,725.40" fill="#c8147e"/>
<text transform="translate(300.10,755.85) rotate(-90) scale(0.7993,1)" x="0" y="0" fill="#161616"><tspan font-size="14.80" dy="-0.00">Relative expression</tspan></text>
<polyline points="343.20,644.40 343.20,630.30 412.30,630.30 412.30,715.80" fill="none" stroke="#111" stroke-width="1.3"/>
<polygon points="375.20,621.85 375.85,623.71 377.82,623.75 376.25,624.94 376.82,626.82 375.20,625.70 373.58,626.82 374.15,624.94 372.58,623.75 374.55,623.71" fill="#1c1c1c"/>
<polygon points="380.80,621.85 381.45,623.71 383.42,623.75 381.85,624.94 382.42,626.82 380.80,625.70 379.18,626.82 379.75,624.94 378.18,623.75 380.15,623.71" fill="#1c1c1c"/>
<polyline points="378.20,735.60 378.20,642.40 483.80,642.40 483.80,676.70" fill="none" stroke="#111" stroke-width="1.3"/>
<polygon points="429.20,633.95 429.85,635.81 431.82,635.85 430.25,637.04 430.82,638.92 429.20,637.80 427.58,638.92 428.15,637.04 426.58,635.85 428.55,635.81" fill="#1c1c1c"/>
<polygon points="434.80,633.95 435.45,635.81 437.42,635.85 435.85,637.04 436.42,638.92 434.80,637.80 433.18,638.92 433.75,637.04 432.18,635.85 434.15,635.81" fill="#1c1c1c"/>
<polyline points="378.20,659.80 378.20,659.80 448.60,659.80 448.60,666.60" fill="none" stroke="#111" stroke-width="1.3"/>
<polygon points="395.70,651.35 396.35,653.21 398.32,653.25 396.75,654.44 397.32,656.32 395.70,655.20 394.08,656.32 394.65,654.44 393.08,653.25 395.05,653.21" fill="#1c1c1c"/>
<text transform="translate(349.00,795.00) rotate(-45) translate(-27.38,0) scale(0.8700,1)" x="0" y="0" fill="#161616"><tspan font-size="14.90" dy="-0.00">-Epo</tspan></text>
<text transform="translate(383.00,795.00) rotate(-45) translate(-30.64,0) scale(0.8700,1)" x="0" y="0" fill="#161616"><tspan font-size="14.90" dy="-0.00">+Epo</tspan></text>
<text transform="translate(419.80,795.00) rotate(-45) translate(-53.69,0) scale(0.8700,1)" x="0" y="0" fill="#161616"><tspan font-size="14.90" dy="-0.00">-Epo+Pio</tspan></text>
<text transform="translate(458.50,795.00) rotate(-45) translate(-60.52,0) scale(0.8700,1)" x="0" y="0" fill="#161616"><tspan font-size="14.90" dy="-0.00">+Epo+GW</tspan></text>
<text transform="translate(488.80,795.00) rotate(-45) translate(-83.60,0) scale(0.8700,1)" x="0" y="0" fill="#161616"><tspan font-size="14.90" dy="-0.00">+Epo+HQL-79</tspan></text>
</svg>
</body></html>
